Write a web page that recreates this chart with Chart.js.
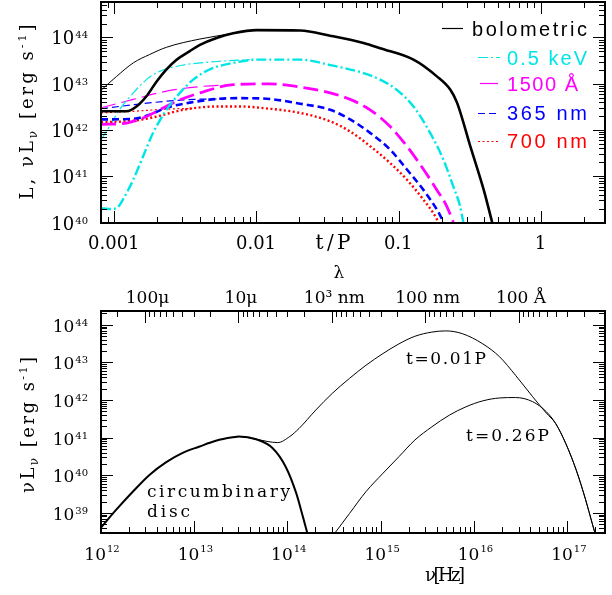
<!DOCTYPE html>
<html><head><meta charset="utf-8">
<script src="https://cdn.jsdelivr.net/npm/chart.js@4.4.1/dist/chart.umd.min.js"></script>
<style>
html,body{margin:0;padding:0;background:#fff;overflow:hidden}
#top{position:absolute;left:0;top:0}
#bot{position:absolute;left:0;top:260px}
</style></head><body>
<canvas id="top" width="612" height="260"></canvas>
<canvas id="bot" width="612" height="335"></canvas>
<script>
// ================= DATA: top panel (luminosity vs t/P) =================
const tBolThick = [0.0008, 0.00121, 0.00142, 0.00167, 0.00197, 0.00231, 0.00272, 0.00337, 0.00397, 0.0052, 0.0068, 0.00995, 0.0201, 0.0327, 0.0561, 0.0734, 0.126, 0.184, 0.229, 0.255, 0.316, 0.393, 0.45];
const LBolThick = [2.6e42, 2.6e42, 3.3e42, 5.5e42, 1.15e43, 2.1e43, 3.4e43, 5.2e43, 7.1e43, 1.0e44, 1.26e44, 1.48e44, 1.45e44, 1.12e44, 7.8e43, 6.0e43, 3.4e43, 1.48e43, 7.6e42, 4.0e42, 4.6e41, 5.2e40, 1.05e40];
const tBolThin = [0.0008, 0.00103, 0.00135, 0.00176, 0.00231, 0.00397, 0.0068];
const LBolThin = [7.4e42, 1.48e43, 2.9e43, 4.4e43, 6.3e43, 9.5e43, 1.26e44];

const tKevThick = [0.0008, 0.00095, 0.00105, 0.00114, 0.00135, 0.00158, 0.00186, 0.00231, 0.00287, 0.00356, 0.00466, 0.00681, 0.00995, 0.0201, 0.0327, 0.0561, 0.0734, 0.0959, 0.126, 0.165, 0.205, 0.240, 0.268, 0.282];
const LKevThick = [2.1e40, 2.0e40, 2.2e40, 3.2e40, 8.7e40, 2.75e41, 8.9e41, 2.8e42, 6.5e42, 1.26e43, 2.1e43, 2.9e43, 3.4e43, 3.4e43, 2.6e43, 1.74e43, 1.26e43, 7.6e42, 3.3e42, 8.9e41, 2.3e41, 6.2e40, 2.3e40, 1.05e40];
const tKevThin = [0.0008, 0.00092, 0.00108, 0.00135, 0.00167, 0.00207, 0.00303, 0.0052, 0.0089];
const LKevThin = [6.3e41, 1.23e42, 2.8e42, 6.5e42, 1.26e43, 1.9e43, 2.6e43, 3.1e43, 3.4e43];

const t1500Thick = [0.0008, 0.00121, 0.00158, 0.00207, 0.00272, 0.00397, 0.00681, 0.0123, 0.0201, 0.0327, 0.0452, 0.0624, 0.086, 0.113, 0.148, 0.184, 0.216, 0.240];
const L1500Thick = [1.35e42, 1.45e42, 1.86e42, 2.8e42, 4.3e42, 6.5e42, 9.8e42, 1.02e43, 8.7e42, 6.5e42, 4.7e42, 2.8e42, 1.23e42, 4.6e41, 1.45e41, 5.2e40, 2.3e40, 1.05e40];
const t1500Thin = [0.0008, 0.00135, 0.00231, 0.00397, 0.0068];
const L1500Thin = [3.1e42, 4.7e42, 7.1e42, 8.9e42, 9.8e42];

const t365Thick = [0.0008, 0.00135, 0.00176, 0.00231, 0.00337, 0.0052, 0.0076, 0.0123, 0.0201, 0.0327, 0.0452, 0.0624, 0.086, 0.113, 0.148, 0.184, 0.205];
const L365Thick = [1.74e42, 1.78e42, 2.2e42, 3.1e42, 4.0e42, 4.8e42, 5.0e42, 4.8e42, 3.8e42, 2.8e42, 1.74e42, 8.9e41, 3.9e41, 1.45e41, 5.2e40, 1.95e40, 1.05e40];
const t365Thin = [0.0008, 0.00135, 0.00231, 0.00356, 0.0052];
const L365Thin = [2.95e42, 3.6e42, 4.3e42, 4.7e42, 4.8e42];

const t700Thick = [0.0008, 0.00135, 0.00197, 0.00303, 0.0052, 0.0076, 0.0123, 0.0201, 0.0327, 0.0452, 0.0624, 0.086, 0.113, 0.148, 0.173, 0.189];
const L700Thick = [1.51e42, 1.62e42, 2.0e42, 2.8e42, 3.3e42, 3.3e42, 2.95e42, 2.4e42, 1.58e42, 9.5e41, 4.6e41, 2.0e41, 8.7e40, 3.2e40, 1.66e40, 1.05e40];
const t700Thin = [0.0008, 0.00135, 0.00231, 0.0035];
const L700Thin = [2.4e42, 2.6e42, 2.9e42, 3.0e42];

const legendLabels = ['bolometric', '0.5 keV', '1500 Å', '365 nm', '700 nm'];
const tTickValues = [0.001, 0.01, 0.1, 1];
const tTickLabels = ['0.001', '0.01', '0.1', '1'];
const yTopExps = [40, 41, 42, 43, 44];

// ================= DATA: bottom panel (spectra) =================
const nuDisc = [1.0e12, 1.45e12, 2.2e12, 3.3e12, 5.0e12, 7.4e12, 1.12e13, 1.7e13, 2.57e13, 3.0e13, 4.6e13, 6.9e13, 9.5e13, 1.23e14, 1.45e14, 1.62e14];
const LDisc = [4.2e38, 1.23e39, 3.8e39, 1.05e40, 2.3e40, 4.0e40, 5.9e40, 8.5e40, 1.05e41, 1.1e41, 9.3e40, 5.4e40, 1.74e40, 3.5e39, 8.3e38, 3.0e38];
const nuEarly = [2.57e13, 3.0e13, 4.6e13, 7.8e13, 1.05e14, 1.32e14, 2.0e14, 3.0e14, 4.6e14, 6.9e14, 1.05e15, 1.55e15, 2.3e15, 3.5e15, 4.9e15, 7.4e15, 1.23e16, 1.86e16, 2.75e16, 4.2e16, 5.9e16, 7.4e16, 9.5e16, 1.23e17, 1.55e17, 1.82e17, 1.95e17];
const LEarly = [1.05e41, 1.1e41, 9.3e40, 7.6e40, 1.1e41, 1.8e41, 5.6e41, 1.55e42, 3.9e42, 8.7e42, 1.78e43, 3.2e43, 5.1e43, 6.6e43, 7.1e43, 6.0e43, 3.2e43, 1.45e43, 4.7e42, 1.26e42, 4.6e41, 2.45e41, 7.2e40, 1.41e40, 2.3e39, 5.5e38, 3.0e38];
const nuLate = [3.2e14, 4.6e14, 6.9e14, 1.05e15, 1.55e15, 2.3e15, 3.5e15, 5.4e15, 8.1e15, 1.23e16, 1.86e16, 2.75e16, 4.2e16, 5.9e16, 7.4e16, 9.5e16, 1.23e17, 1.55e17, 1.82e17, 1.95e17];
const LLate = [3.0e38, 1.0e39, 3.8e39, 1.17e40, 3.2e40, 8.9e40, 2.0e41, 4.1e41, 6.8e41, 9.8e41, 1.17e42, 1.2e42, 9.3e41, 5.0e41, 2.45e41, 7.2e40, 1.41e40, 2.3e39, 5.5e38, 3.0e38];

const nuExps = [12, 13, 14, 15, 16, 17];
const yBotExps = [39, 40, 41, 42, 43, 44];
const lambdaMetres = [1e-4, 1e-5, 1e-6, 1e-7, 1e-8];
const lambdaLabels = ['100μ', '10μ', '10³ nm', '100 nm', '100 Å'];
const spectrumLabels = ['t=0.01P', 't=0.26P', 'circumbinary', 'disc'];
const SPEED_OF_LIGHT = 3e8;

// axis ranges
const T_MIN = 8e-4, T_MAX = 2.8, LT_MIN = 1e40, LT_MAX = 6e44;
const NU_MIN = 1e12, NU_MAX = 2.5e17, LB_MIN = 3e38, LB_MAX = 2.4e44;

// ================= helpers =================
const SERIF = '"DejaVu Serif", "Liberation Serif", serif';
const SANS = '"Liberation Sans", "DejaVu Sans", sans-serif';
const CYAN = '#00e6e6', MAG = '#ff00ff', BLUE = '#0000ff', RED = '#ff0000', BLACK = '#000000';
const DASH = { bol: [], kev: [10, 3, 2, 3], uv: [15, 6], u: [7, 4], r: [2, 2.5] };

function pts(xs, ys) { return xs.map((x, i) => ({ x: x, y: ys[i] })); }
function makeLine(xs, ys, color, width, dash) {
  return { data: pts(xs, ys), borderColor: color, borderWidth: width, borderDash: dash,
    pointRadius: 0, fill: false, cubicInterpolationMode: 'monotone', borderCapStyle: 'butt',
    xAxisID: 'x', yAxisID: 'y' };
}
function logTicks(min, max) {
  const out = [];
  const e0 = Math.floor(Math.log10(min)) - 1, e1 = Math.ceil(Math.log10(max));
  for (let e = e0; e <= e1; e++) {
    for (let k = 1; k <= 9; k++) {
      const v = k * Math.pow(10, e);
      if (v > min * 1.0001 && v < max * 0.9999) out.push({ v: v, major: k === 1 });
    }
  }
  return out;
}
function lambdaTicks() {
  const lt = [];
  for (let e = -10; e <= -2; e++) for (let k = 1; k <= 9; k++) {
    const nu = SPEED_OF_LIGHT / (k * Math.pow(10, e));
    if (nu > NU_MIN * 1.0001 && nu < NU_MAX * 0.9999) lt.push({ v: nu, major: k === 1 });
  }
  return lt.sort((p, q) => p.v - q.v);
}
const majorsOf = list => list.filter(t => t.major);

const topXT = logTicks(T_MIN, T_MAX), topYT = logTicks(LT_MIN, LT_MAX);
const botXT = logTicks(NU_MIN, NU_MAX), botYT = logTicks(LB_MIN, LB_MAX), botLT = lambdaTicks();

// a log axis whose only visible output is inward tick marks drawn by Chart.js itself
function tickScale(position, min, max, list, len) {
  return {
    type: 'logarithmic', position: position, min: min, max: max, display: true,
    ticks: { display: false },
    border: { display: false },
    grid: { display: true, drawOnChartArea: false, drawTicks: true, tickLength: -len,
            tickColor: '#000000', tickWidth: 1, color: '#000000', lineWidth: 1, z: 1 },
    afterBuildTicks: function (s) { s.ticks = list.map(t => ({ value: t.v })); },
    afterFit: function (s) { if (s.isHorizontal()) s.height = 0; else s.width = 0; }
  };
}

function hasLS(ctx) { return 'letterSpacing' in ctx; }
function setLS(ctx, v) { if (hasLS(ctx)) ctx.letterSpacing = v + 'px'; }
function fitText(ctx, text, x, y, size, family, width, align) {
  ctx.font = size + 'px ' + family;
  setLS(ctx, 0);
  const w = ctx.measureText(text).width;
  const n = Array.from(text).length;
  const ls = (n > 1 && hasLS(ctx)) ? (width - w) / (n - 1) : 0;
  const total = w + ls * (n - 1);
  const x0 = align === 'center' ? x - total / 2 : (align === 'right' ? x - total : x);
  ctx.textAlign = 'left';
  setLS(ctx, ls);
  ctx.fillText(text, x0, y);
  setLS(ctx, 0);
}
function richText(ctx, parts, cx, y, width) {
  let W = 0, n = 0;
  setLS(ctx, 0);
  const ws = parts.map(p => { ctx.font = p[1] + 'px ' + SERIF; const w = ctx.measureText(p[0]).width; W += w; n += Array.from(p[0]).length; return w; });
  const ls = hasLS(ctx) ? (width - W) / (n - 1) : 0;
  let x = cx - (W + ls * (n - 1)) / 2;
  ctx.textAlign = 'left';
  parts.forEach((p, i) => {
    ctx.font = p[1] + 'px ' + SERIF; setLS(ctx, ls);
    ctx.fillText(p[0], x, y + p[2]);
    x += ws[i] + ls * Array.from(p[0]).length;
  });
  setLS(ctx, 0);
}
function drawPow(ctx, exp, x, baseY, expY, align, bs, es) {
  setLS(ctx, 0);
  ctx.textAlign = 'left';
  ctx.font = bs + 'px ' + SERIF; const wb = ctx.measureText('10').width;
  ctx.font = es + 'px ' + SERIF; const we = ctx.measureText(String(exp)).width;
  const tot = wb + 1 + we;
  const x0 = align === 'right' ? x - tot : x - tot / 2;
  ctx.font = bs + 'px ' + SERIF; ctx.fillText('10', x0, baseY);
  ctx.font = es + 'px ' + SERIF; ctx.fillText(String(exp), x0 + wb + 1, expY);
}
function frameAndTicks(ctx, a, xBottom, xTop, yList, xScale, yScale) {
  ctx.save();
  ctx.setLineDash([]);
  ctx.globalAlpha = 1;
  ctx.globalCompositeOperation = 'source-over';
  ctx.fillStyle = '#000';
  xBottom.forEach(t => { const p = Math.round(xScale.getPixelForValue(t.v) - 0.5); const n = t.major ? 12 : 6; ctx.fillRect(p, a.bottom - n, 1, n); });
  xTop.forEach(t => { const p = Math.round(xScale.getPixelForValue(t.v) - 0.5); const n = t.major ? 12 : 6; ctx.fillRect(p, a.top, 1, n); });
  yList.forEach(t => {
    const p = Math.round(yScale.getPixelForValue(t.v) - 0.5); const n = t.major ? 12 : 6;
    ctx.fillRect(a.left, p, n, 1);
    ctx.fillRect(a.right - n, p, n, 1);
  });
  ctx.strokeStyle = '#000';
  ctx.lineWidth = 2;
  ctx.strokeRect(a.left, a.top, a.right - a.left, a.bottom - a.top);
  ctx.restore();
}

// ================= top panel =================
const topDeco = {
  id: 'topDeco',
  afterDraw(chart) {
    const ctx = chart.ctx, a = chart.chartArea, x = chart.scales.x, y = chart.scales.y;
    ctx.save();
    ctx.fillStyle = '#000'; ctx.textBaseline = 'alphabetic';
    ctx.font = '18px ' + SERIF; ctx.textAlign = 'center';
    tTickValues.forEach((v, i) => ctx.fillText(tTickLabels[i], x.getPixelForValue(v) - 1, 249));
    fitText(ctx, 't/P', 333, 249, 20, SERIF, 35, 'center');
    yTopExps.forEach(e => { const p = y.getPixelForValue(Math.pow(10, e)); drawPow(ctx, e, 88, p + 6.5, p + 0.5, 'right', 18, 10); });
    ctx.save(); ctx.translate(33, 112); ctx.rotate(-Math.PI / 2);
    richText(ctx, [['L, νL', 18, 0], ['ν', 12, 4], [' [erg s', 18, 0], ['-1', 11, -7], [']', 18, 0]], 0, 0, 175);
    ctx.restore();
    const colors = [BLACK, CYAN, MAG, BLUE, RED];
    const dashes = [DASH.bol, DASH.kev, [18, 6], DASH.u, DASH.r];
    const sx0 = [442, 478, 480, 478, 478], sx1 = [463, 500, 499, 500, 500];
    const sy = [28.5, 57.5, 83.5, 113.5, 141.5];
    const tx = [472, 507, 507, 507, 507], tb = [36, 65, 91, 120, 148], tw = [115, 80, 71, 80, 80];
    legendLabels.forEach((lab, i) => {
      ctx.strokeStyle = colors[i]; ctx.lineWidth = 1.2; ctx.setLineDash(dashes[i]);
      ctx.beginPath(); ctx.moveTo(sx0[i], sy[i]); ctx.lineTo(sx1[i], sy[i]); ctx.stroke();
      ctx.setLineDash([]);
      ctx.fillStyle = colors[i];
      fitText(ctx, lab, tx[i], tb[i], 20, SANS, tw[i], 'left');
    });
    ctx.restore();
    frameAndTicks(ctx, a, topXT, topXT, topYT, x, y);
  }
};

new Chart(document.getElementById('top'), {
  type: 'line',
  data: { datasets: [
    makeLine(tBolThick, LBolThick, BLACK, 2.6, DASH.bol),
    makeLine(tKevThick, LKevThick, CYAN, 2.4, DASH.kev),
    makeLine(t1500Thick, L1500Thick, MAG, 2.8, DASH.uv),
    makeLine(t365Thick, L365Thick, BLUE, 2.6, DASH.u),
    makeLine(t700Thick, L700Thick, RED, 2.4, DASH.r),
    makeLine(tBolThin, LBolThin, BLACK, 1, DASH.bol),
    makeLine(tKevThin, LKevThin, CYAN, 1.2, DASH.kev),
    makeLine(t1500Thin, L1500Thin, MAG, 1.2, DASH.uv),
    makeLine(t365Thin, L365Thin, BLUE, 1.2, DASH.u),
    makeLine(t700Thin, L700Thin, RED, 1.2, DASH.r)
  ] },
  options: {
    responsive: false, animation: false, devicePixelRatio: 1,
    layout: { padding: { left: 101, right: 7, top: 2, bottom: 37 } },
    plugins: { legend: { display: false }, tooltip: { enabled: false } },
    scales: {
      x: tickScale('bottom', T_MIN, T_MAX, topXT, 6),
      y: tickScale('left', LT_MIN, LT_MAX, topYT, 6),
      xMaj: tickScale('bottom', T_MIN, T_MAX, majorsOf(topXT), 12),
      xTop: tickScale('top', T_MIN, T_MAX, topXT, 6),
      xTopMaj: tickScale('top', T_MIN, T_MAX, majorsOf(topXT), 12),
      yMaj: tickScale('left', LT_MIN, LT_MAX, majorsOf(topYT), 12),
      yRight: tickScale('right', LT_MIN, LT_MAX, topYT, 6),
      yRightMaj: tickScale('right', LT_MIN, LT_MAX, majorsOf(topYT), 12)
    }
  },
  plugins: [topDeco]
});

// ================= bottom panel =================
const botDeco = {
  id: 'botDeco',
  afterDraw(chart) {
    const ctx = chart.ctx, a = chart.chartArea, x = chart.scales.x, y = chart.scales.y;
    const OFF = 260;
    ctx.save();
    ctx.fillStyle = '#000'; ctx.textBaseline = 'alphabetic';
    nuExps.forEach(e => { const p = x.getPixelForValue(Math.pow(10, e)); drawPow(ctx, e, p + 1, 560 - OFF, 552 - OFF, 'center', 17, 10); });
    yBotExps.forEach(e => { const p = y.getPixelForValue(Math.pow(10, e)); drawPow(ctx, e, 88, p + 6.5, p + 0.5, 'right', 17, 10); });
    ctx.font = '17px ' + SERIF; ctx.textAlign = 'center';
    lambdaMetres.forEach((lam, i) => {
      const p = x.getPixelForValue(SPEED_OF_LIGHT / lam);
      ctx.fillText(lambdaLabels[i], p + 2, 303 - OFF);
    });
    ctx.fillText('λ', 339, 278 - OFF);
    fitText(ctx, 'ν[Hz]', 445, 581 - OFF, 18, SERIF, 40, 'center');
    ctx.save(); ctx.translate(34, 425 - OFF); ctx.rotate(-Math.PI / 2);
    richText(ctx, [['νL', 18, 0], ['ν', 12, 4], [' [erg s', 18, 0], ['-1', 11, -7], [']', 18, 0]], 0, 0, 136);
    ctx.restore();
    fitText(ctx, spectrumLabels[0], 406, 364 - OFF, 17, SERIF, 80, 'left');
    fitText(ctx, spectrumLabels[1], 466, 440.5 - OFF, 17, SERIF, 83, 'left');
    fitText(ctx, spectrumLabels[2], 147, 497 - OFF, 17, SERIF, 143, 'left');
    fitText(ctx, spectrumLabels[3], 147, 516.5 - OFF, 17, SERIF, 43, 'left');
    ctx.restore();
    frameAndTicks(ctx, a, botXT, botLT, botYT, x, y);
  }
};

new Chart(document.getElementById('bot'), {
  type: 'line',
  data: { datasets: [
    makeLine(nuDisc, LDisc, BLACK, 2, []),
    makeLine(nuEarly, LEarly, BLACK, 1, []),
    makeLine(nuLate, LLate, BLACK, 1, [])
  ] },
  options: {
    responsive: false, animation: false, devicePixelRatio: 1,
    layout: { padding: { left: 101, right: 7, top: 51, bottom: 62 } },
    plugins: { legend: { display: false }, tooltip: { enabled: false } },
    scales: {
      x: tickScale('bottom', NU_MIN, NU_MAX, botXT, 6),
      y: tickScale('left', LB_MIN, LB_MAX, botYT, 6),
      xMaj: tickScale('bottom', NU_MIN, NU_MAX, majorsOf(botXT), 12),
      lamTop: tickScale('top', NU_MIN, NU_MAX, botLT, 6),
      lamTopMaj: tickScale('top', NU_MIN, NU_MAX, majorsOf(botLT), 12),
      yMaj: tickScale('left', LB_MIN, LB_MAX, majorsOf(botYT), 12),
      yRight: tickScale('right', LB_MIN, LB_MAX, botYT, 6),
      yRightMaj: tickScale('right', LB_MIN, LB_MAX, majorsOf(botYT), 12)
    }
  },
  plugins: [botDeco]
});
</script>
</body></html>
